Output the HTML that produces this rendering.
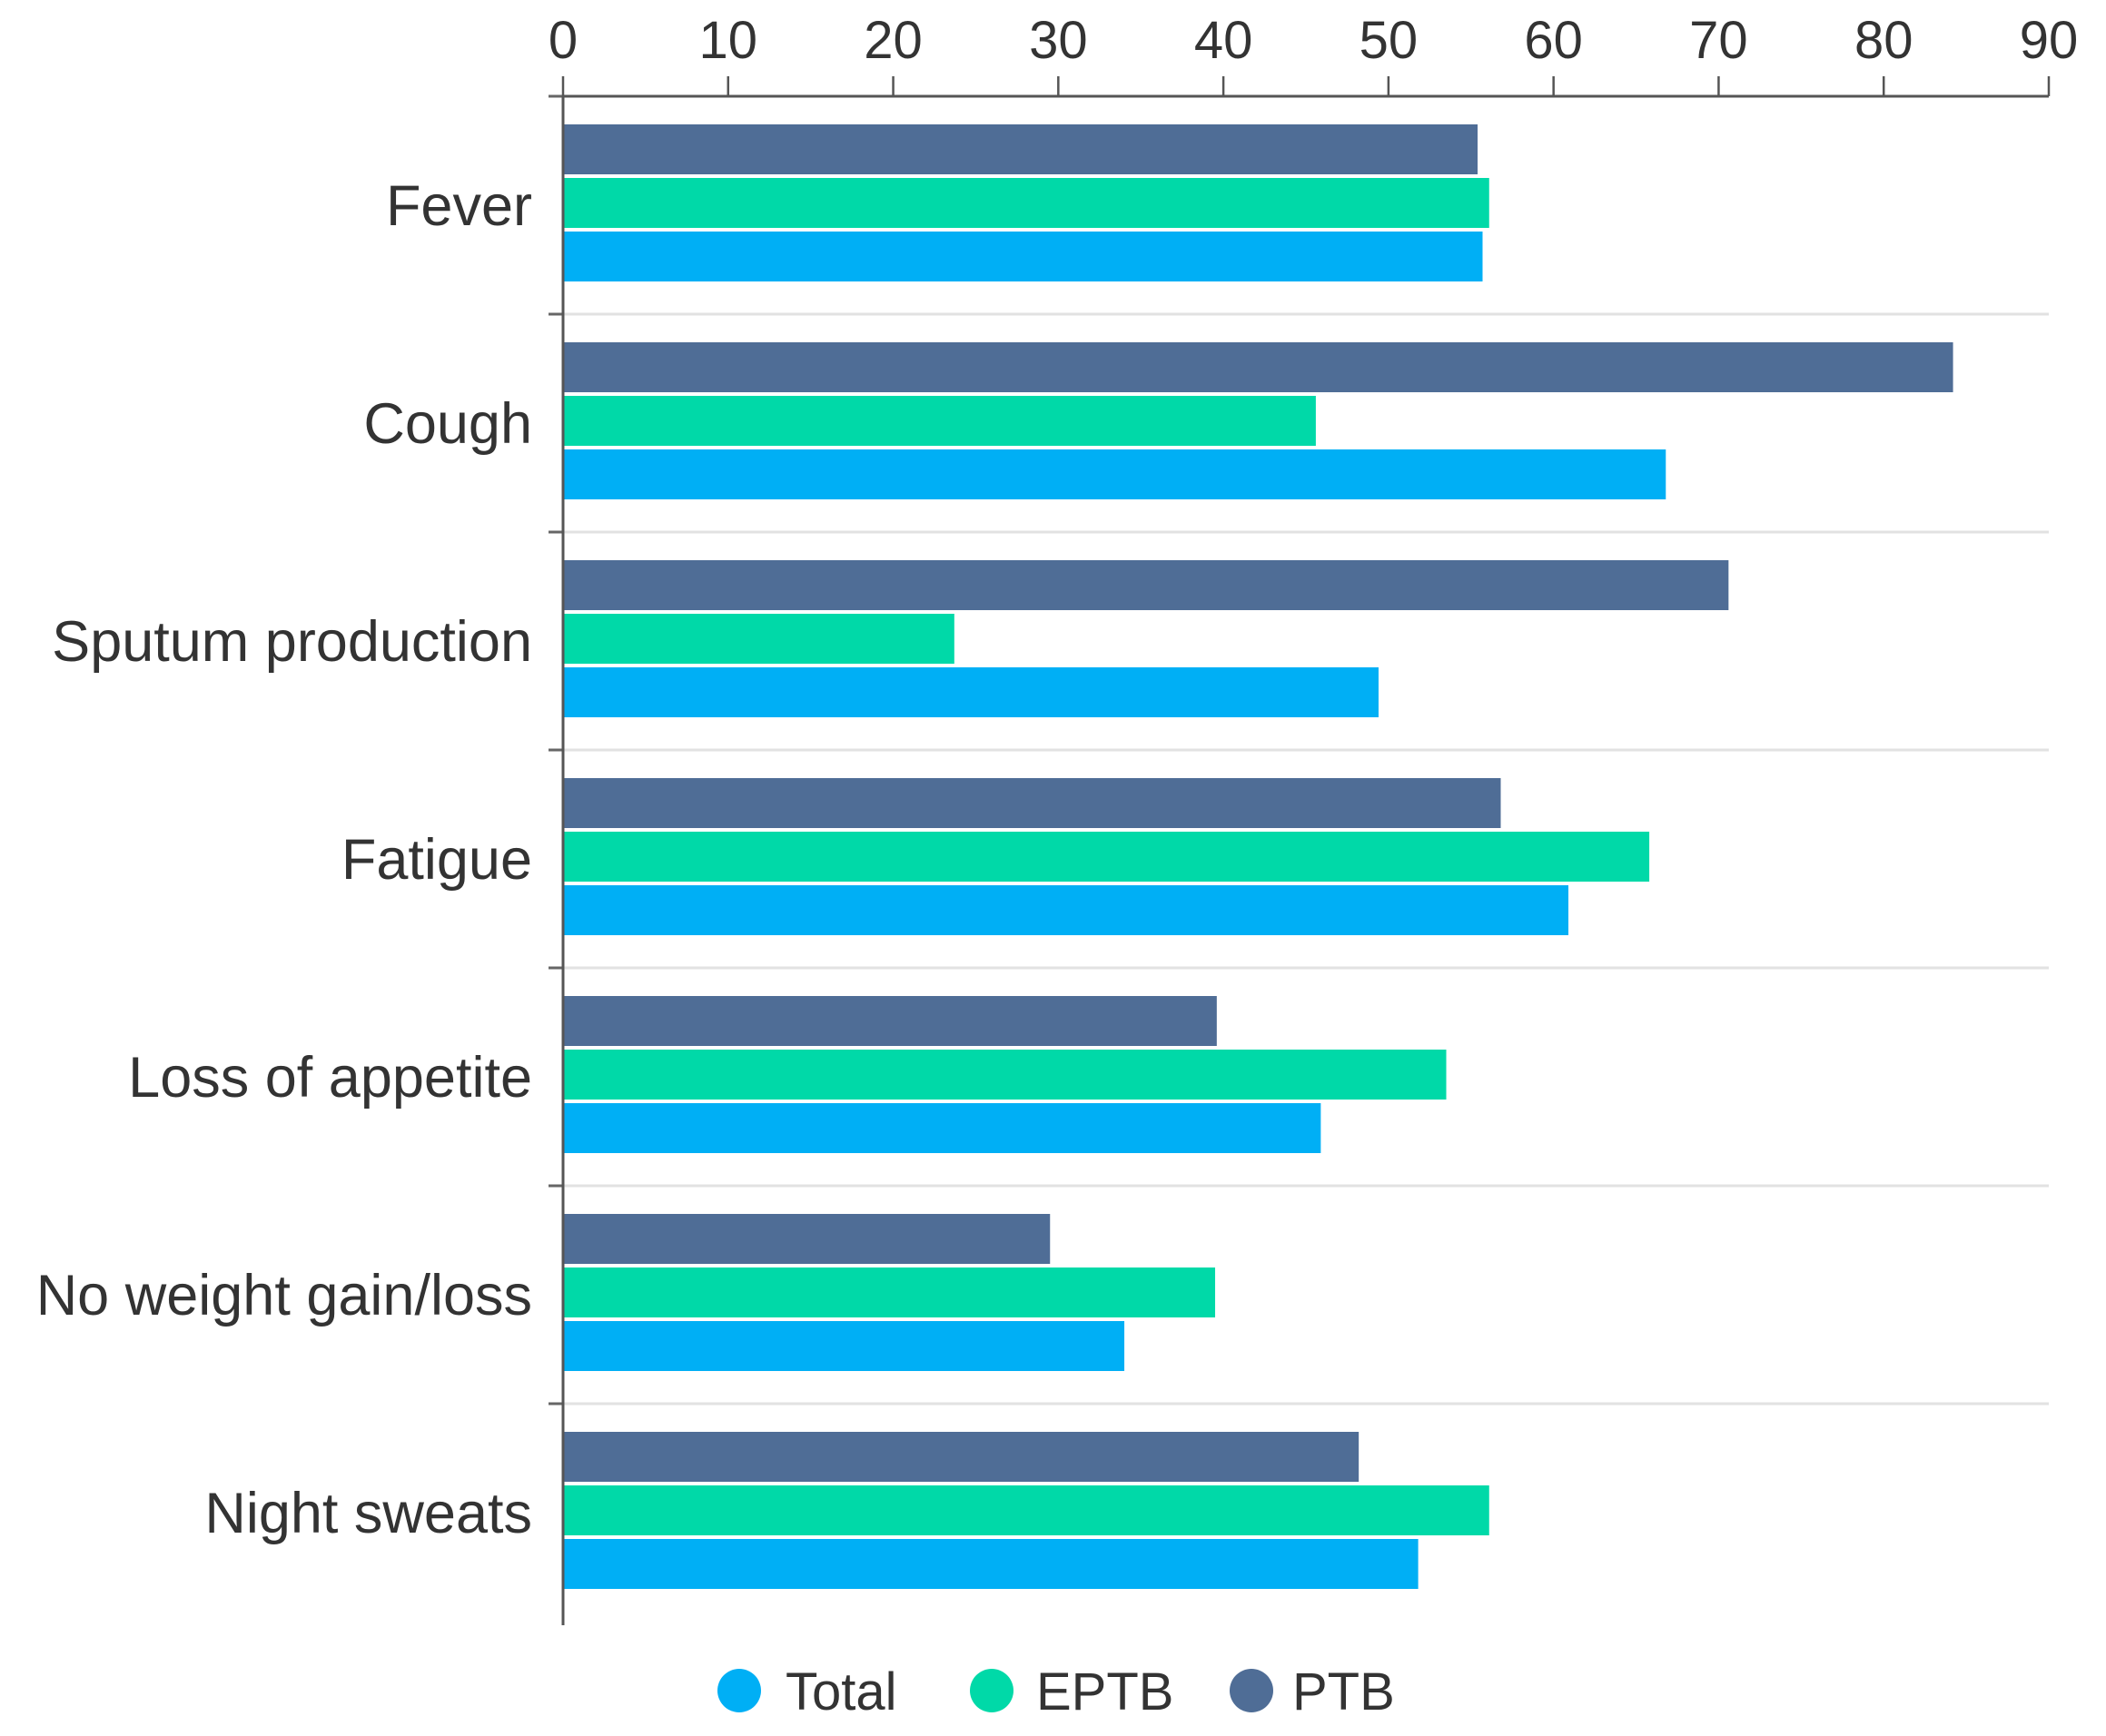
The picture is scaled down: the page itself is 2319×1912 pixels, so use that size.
<!DOCTYPE html>
<html><head><meta charset="utf-8"><style>
html,body{margin:0;padding:0;background:#fff;}
svg{display:block;font-family:"Liberation Sans",sans-serif;}
</style></head><body>
<svg id="chart" width="2319" height="1912" viewBox="0 0 2319 1912" xmlns="http://www.w3.org/2000/svg">
<g id="grid"></g>
<g id="bars"></g>
<g id="axes"></g>
<g id="legend"></g>
</svg>
<script>
const categories = ["Fever","Cough","Sputum production","Fatigue","Loss of appetite","No weight gain/loss","Night sweats"];
const ptbValues = [55.4, 84.2, 70.6, 56.8, 39.6, 29.5, 48.2];
const eptbValues = [56.1, 45.6, 23.7, 65.8, 53.5, 39.5, 56.1];
const totalValues = [55.7, 66.8, 49.4, 60.9, 45.9, 34.0, 51.8];
const tickValues = [0,10,20,30,40,50,60,70,80,90];
const seriesNames = ["Total","EPTB","PTB"];

const NS="http://www.w3.org/2000/svg";
const x0=620, x1=2256, xMax=90, yTop=106, band=240;
const xs=v=>x0+(v/xMax)*(x1-x0);
const bandTop=i=>yTop+i*band;
function mk(tag,attrs,parent){const e=document.createElementNS(NS,tag);for(const k in attrs)e.setAttribute(k,attrs[k]);parent.appendChild(e);return e;}
const gridG=document.getElementById('grid'),barsG=document.getElementById('bars'),axesG=document.getElementById('axes'),legendG=document.getElementById('legend');
const colors={PTB:"#4f6d96",EPTB:"#00d9a8",Total:"#00aff5"};

for(let i=1;i<categories.length;i++){
  const g=mk('line',{x1:x0,x2:x1,y1:bandTop(i),y2:bandTop(i),stroke:"#e2e2e2","stroke-width":3},gridG);
  
  
}
const series=[["PTB",ptbValues],["EPTB",eptbValues],["Total",totalValues]];
categories.forEach((c,i)=>{
  series.forEach(([n,vals],j)=>{
    const r=mk('rect',{x:x0,y:bandTop(i)+31+j*59,width:xs(vals[i])-x0,height:55,fill:colors[n]},barsG);
    
    
  });
  const t=mk('text',{x:586,y:bandTop(i)+band/2+22,"text-anchor":"end","font-size":63,fill:"#333"},axesG);
  t.textContent=c;
  
  
  const tk=mk('line',{x1:604,x2:x0,y1:bandTop(i),y2:bandTop(i),stroke:"#666","stroke-width":3},axesG);
  
  
});
const ax=mk('line',{x1:x0,x2:x1,y1:yTop,y2:yTop,stroke:"#555","stroke-width":3},axesG);


const ay=mk('line',{x1:x0,x2:x0,y1:yTop,y2:yTop+band*categories.length+4,stroke:"#555","stroke-width":3},axesG);


tickValues.forEach(v=>{
  const l=mk('line',{x1:xs(v),x2:xs(v),y1:yTop-22,y2:yTop,stroke:"#555","stroke-width":2.5},axesG);
  
  
  const t=mk('text',{x:xs(v),y:64,"text-anchor":"middle","font-size":58,fill:"#333"},axesG);
  t.textContent=v;
  
  
});
const legPos=[[814,865],[1092,1141],[1378,1423]];
seriesNames.forEach((n,k)=>{
  const c=mk('circle',{cx:legPos[k][0],cy:1862,r:24,fill:colors[n]},legendG);
  
  
  const t=mk('text',{x:legPos[k][1],y:1883,"font-size":58,fill:"#333"},legendG);
  t.textContent=n;
  
  
});
</script>
</body></html>
